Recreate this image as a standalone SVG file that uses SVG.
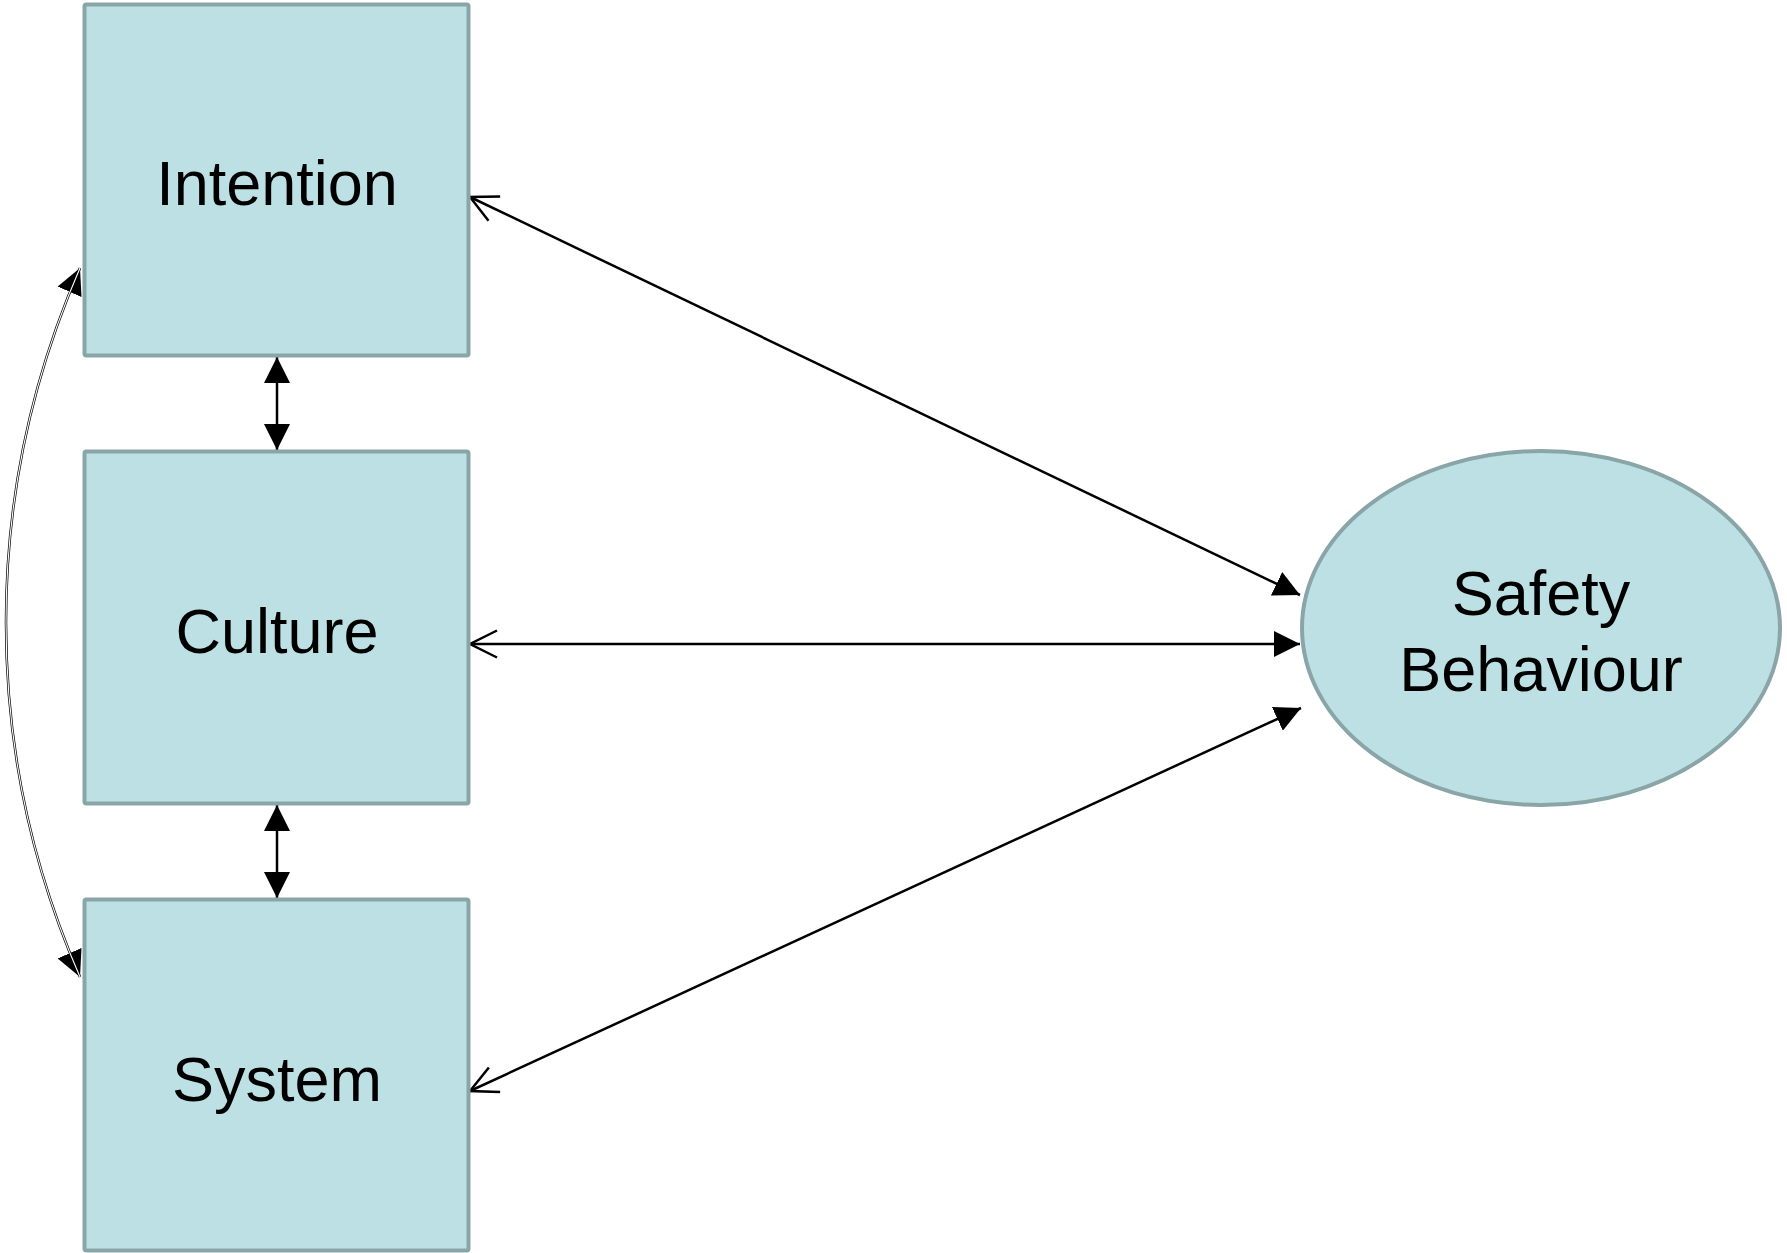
<svg xmlns="http://www.w3.org/2000/svg" width="1787" height="1253" viewBox="0 0 1787 1253">
<style>
.node{fill:#bce0e3;stroke:#8aa5a8;stroke-width:4}
.lbl{font-family:"Liberation Sans",Arial,sans-serif;font-size:63px;fill:#000;text-anchor:middle}
.conn{stroke:#000;stroke-width:2.5;fill:none}
</style>
<defs>
<marker id="fill" viewBox="0 0 26 26" refX="26" refY="13" markerWidth="26" markerHeight="26" markerUnits="userSpaceOnUse" orient="auto-start-reverse">
<path d="M0,0 L26,13 L0,26 Z" fill="#000"/>
</marker>
<marker id="open" viewBox="-2 -2 32 32" refX="27" refY="13.5" markerWidth="32" markerHeight="32" markerUnits="userSpaceOnUse" orient="auto-start-reverse" overflow="visible">
<path d="M0,0 L27,13.5 L0,27" fill="none" stroke="#000" stroke-width="2.5"/>
</marker>
</defs>
<g id="connectors">
<path class="conn" d="M80,268 A886,886 0 0 0 80,977" stroke="#333" stroke-width="3.2" marker-start="url(#fill)" marker-end="url(#fill)"/>
<path d="M80,268 A886,886 0 0 0 80,977" fill="none" stroke="#fff" stroke-width="1.1"/>
<line class="conn" x1="277" y1="357" x2="277" y2="450" marker-start="url(#fill)" marker-end="url(#fill)"/>
<line class="conn" x1="277" y1="805" x2="277" y2="898" marker-start="url(#fill)" marker-end="url(#fill)"/>
<line class="conn" x1="470" y1="197" x2="1300" y2="595" marker-start="url(#open)" marker-end="url(#fill)"/>
<line class="conn" x1="470" y1="644" x2="1300" y2="644" marker-start="url(#open)" marker-end="url(#fill)"/>
<line class="conn" x1="470" y1="1091" x2="1301" y2="708" marker-start="url(#open)" marker-end="url(#fill)"/>
</g>
<g id="intention">
<rect class="node" x="84.5" y="4.6" width="384" height="351" rx="2"/>
<text class="lbl" x="277" y="205">Intention</text>
</g>
<g id="culture">
<rect class="node" x="84.5" y="451.5" width="384" height="352" rx="2"/>
<text class="lbl" x="277" y="653">Culture</text>
</g>
<g id="system">
<rect class="node" x="84.5" y="899.5" width="384" height="351" rx="2"/>
<text class="lbl" x="277" y="1101">System</text>
</g>
<g id="safety">
<ellipse class="node" cx="1541" cy="628" rx="239" ry="177"/>
<text class="lbl" x="1541" y="615">Safety</text>
<text class="lbl" x="1541" y="691">Behaviour</text>
</g>
</svg>
